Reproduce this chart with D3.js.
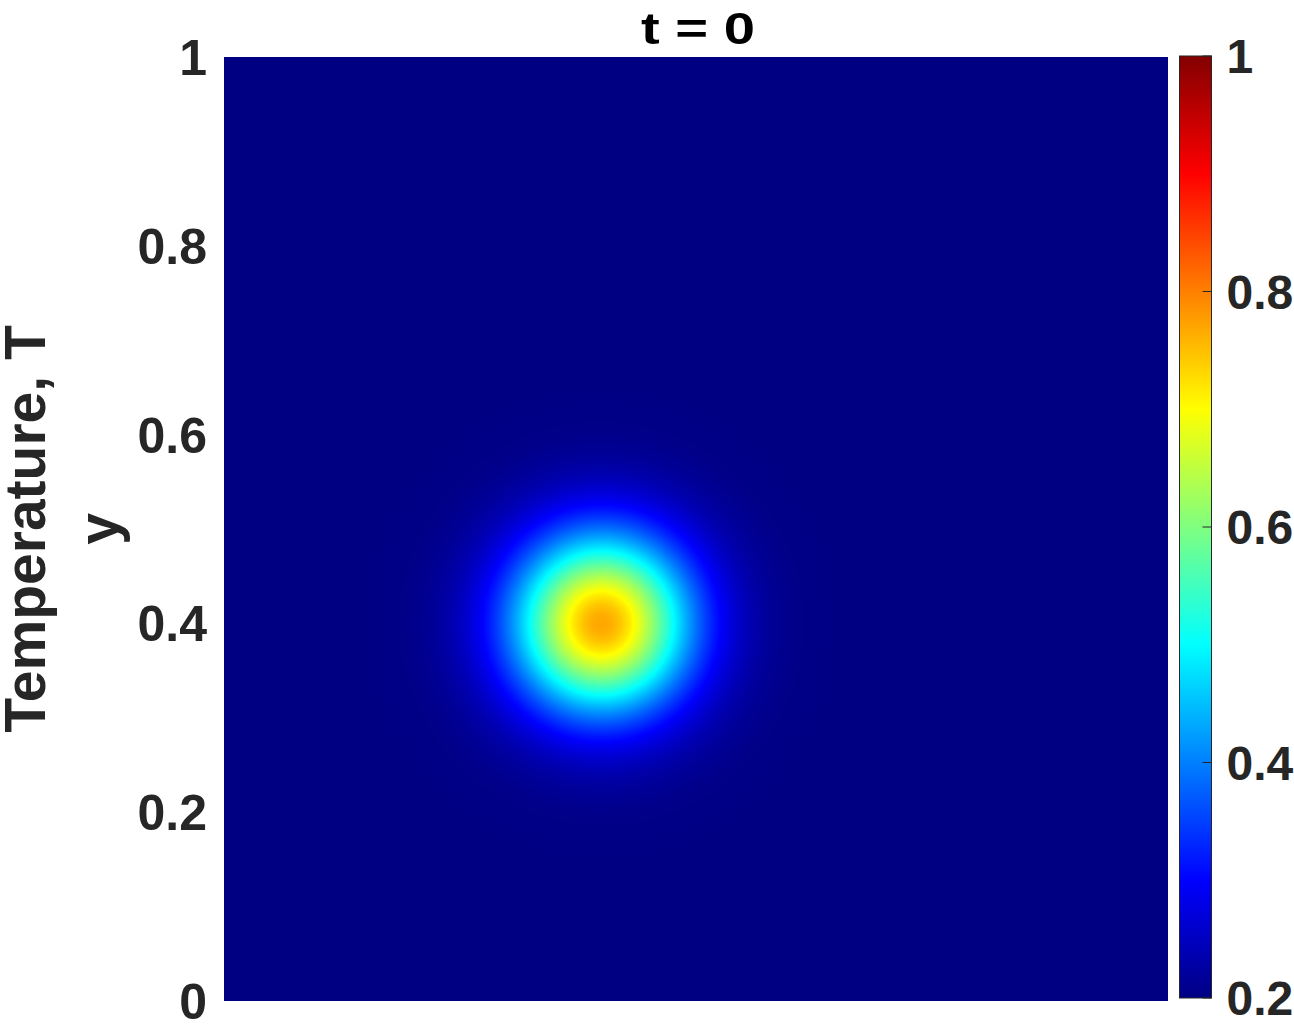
<!DOCTYPE html>
<html>
<head>
<meta charset="utf-8">
<script src="https://cdn.jsdelivr.net/npm/d3@7"></script>
<style>
  body { margin: 0; background: #fff; }
  svg text { font-family: "Liberation Sans", Arial, sans-serif; font-weight: bold; }
</style>
</head>
<body>
<svg id="chart"></svg>
<script>
// centre of the hot spot (x, y)
const centre = [0.4, 0.4];
// temperature against distance from the centre
const profileR = [0, 0.01, 0.02, 0.03, 0.04, 0.05, 0.06, 0.07, 0.08, 0.09, 0.10, 0.11, 0.12,
  0.13, 0.14, 0.15, 0.16, 0.17, 0.18, 0.19, 0.20, 0.21, 0.22, 0.23, 0.24, 0.25, 1.5];
const profileT = [0.770, 0.764, 0.745, 0.716, 0.678, 0.633, 0.584, 0.533, 0.482, 0.434, 0.390, 0.351, 0.317,
  0.289, 0.266, 0.248, 0.234, 0.224, 0.216, 0.211, 0.207, 0.204, 0.203, 0.202, 0.201, 0.200, 0.200];

const yTicks = [0, 0.2, 0.4, 0.6, 0.8, 1];
const cbTicks = [0.2, 0.4, 0.6, 0.8, 1];
const tRange = [0.2, 1];

// jet colormap break points
const jetValues = [0.2, 0.3, 0.5, 0.7, 0.9, 1.0];
const jetColors = ["#000083", "#0000ff", "#00ffff", "#ffff00", "#ff0000", "#830000"];

const width = 1294;
const height = 1026;
const plot = { left: 224, top: 57, size: 944 };
const cb = { left: 1179.5, top: 56, width: 32, height: 942 };

const svg = d3.select("#chart")
  .attr("width", width)
  .attr("height", height);

const xScale = d3.scaleLinear().domain([0, 1]).range([plot.left, plot.left + plot.size]);
const yScale = d3.scaleLinear().domain([0, 1]).range([plot.top + plot.size, plot.top]);
const profile = d3.scaleLinear().domain(profileR).range(profileT).clamp(true);
const color = d3.scaleLinear().domain(jetValues).range(jetColors).interpolate(d3.interpolateRgb).clamp(true);

// paint the field into a canvas, pixel by pixel
const canvas = document.createElement("canvas");
canvas.width = plot.size;
canvas.height = plot.size;
const ctx = canvas.getContext("2d");
const img = ctx.createImageData(plot.size, plot.size);
for (let j = 0; j < plot.size; j++) {
  const y = yScale.invert(plot.top + j + 0.5);
  for (let i = 0; i < plot.size; i++) {
    const x = xScale.invert(plot.left + i + 0.5);
    const r = Math.hypot(x - centre[0], y - centre[1]);
    const c = d3.rgb(color(profile(r)));
    const k = (j * plot.size + i) * 4;
    img.data[k] = c.r;
    img.data[k + 1] = c.g;
    img.data[k + 2] = c.b;
    img.data[k + 3] = 255;
  }
}
ctx.putImageData(img, 0, 0);

svg.append("image")
  .attr("x", plot.left)
  .attr("y", plot.top)
  .attr("width", plot.size)
  .attr("height", plot.size)
  .attr("href", canvas.toDataURL());

// y tick labels
svg.append("g")
  .selectAll("text")
  .data(yTicks)
  .join("text")
  .attr("x", plot.left - 17)
  .attr("y", (d) => yScale(d))
  .attr("dy", "0.36em")
  .attr("text-anchor", "end")
  .attr("fill", "#262626")
  .style("font-size", "50px")
  .text((d) => d3.format("~g")(d));

// title
svg.append("text")
  .attr("x", plot.left + plot.size / 2 + 2)
  .attr("y", 44)
  .attr("text-anchor", "middle")
  .attr("fill", "#000")
  .attr("textLength", 114)
  .attr("lengthAdjust", "spacingAndGlyphs")
  .style("font-size", "45px")
  .text("t = 0");

// axis labels
const midY = plot.top + plot.size / 2;
svg.append("text")
  .attr("transform", `translate(45, ${midY}) rotate(-90)`)
  .attr("text-anchor", "middle")
  .attr("fill", "#262626")
  .style("font-size", "57px")
  .text("Temperature, T");

svg.append("text")
  .attr("transform", `translate(118, ${midY}) rotate(-90)`)
  .attr("text-anchor", "middle")
  .attr("fill", "#262626")
  .style("font-size", "57px")
  .text("y");

// colorbar
const cbScale = d3.scaleLinear().domain(tRange).range([cb.top + cb.height, cb.top]);

const grad = svg.append("defs")
  .append("linearGradient")
  .attr("id", "jet")
  .attr("x1", 0).attr("y1", 1)
  .attr("x2", 0).attr("y2", 0);
grad.selectAll("stop")
  .data(jetValues)
  .join("stop")
  .attr("offset", (d) => (d - tRange[0]) / (tRange[1] - tRange[0]))
  .attr("stop-color", (d, i) => jetColors[i]);

svg.append("rect")
  .attr("x", cb.left)
  .attr("y", cb.top)
  .attr("width", cb.width)
  .attr("height", cb.height)
  .attr("fill", "url(#jet)")
  .attr("stroke", "#262626")
  .attr("stroke-width", 1);

svg.append("g")
  .selectAll("line")
  .data(cbTicks)
  .join("line")
  .attr("x1", cb.left + cb.width - 9)
  .attr("x2", cb.left + cb.width)
  .attr("y1", (d) => cbScale(d))
  .attr("y2", (d) => cbScale(d))
  .attr("stroke", "#262626")
  .attr("stroke-width", 1);

svg.append("g")
  .selectAll("text")
  .data(cbTicks)
  .join("text")
  .attr("x", cb.left + cb.width + 15)
  .attr("y", (d) => cbScale(d))
  .attr("dy", "0.36em")
  .attr("text-anchor", "start")
  .attr("fill", "#262626")
  .style("font-size", "48px")
  .text((d) => d3.format("~g")(d));
</script>
</body>
</html>
